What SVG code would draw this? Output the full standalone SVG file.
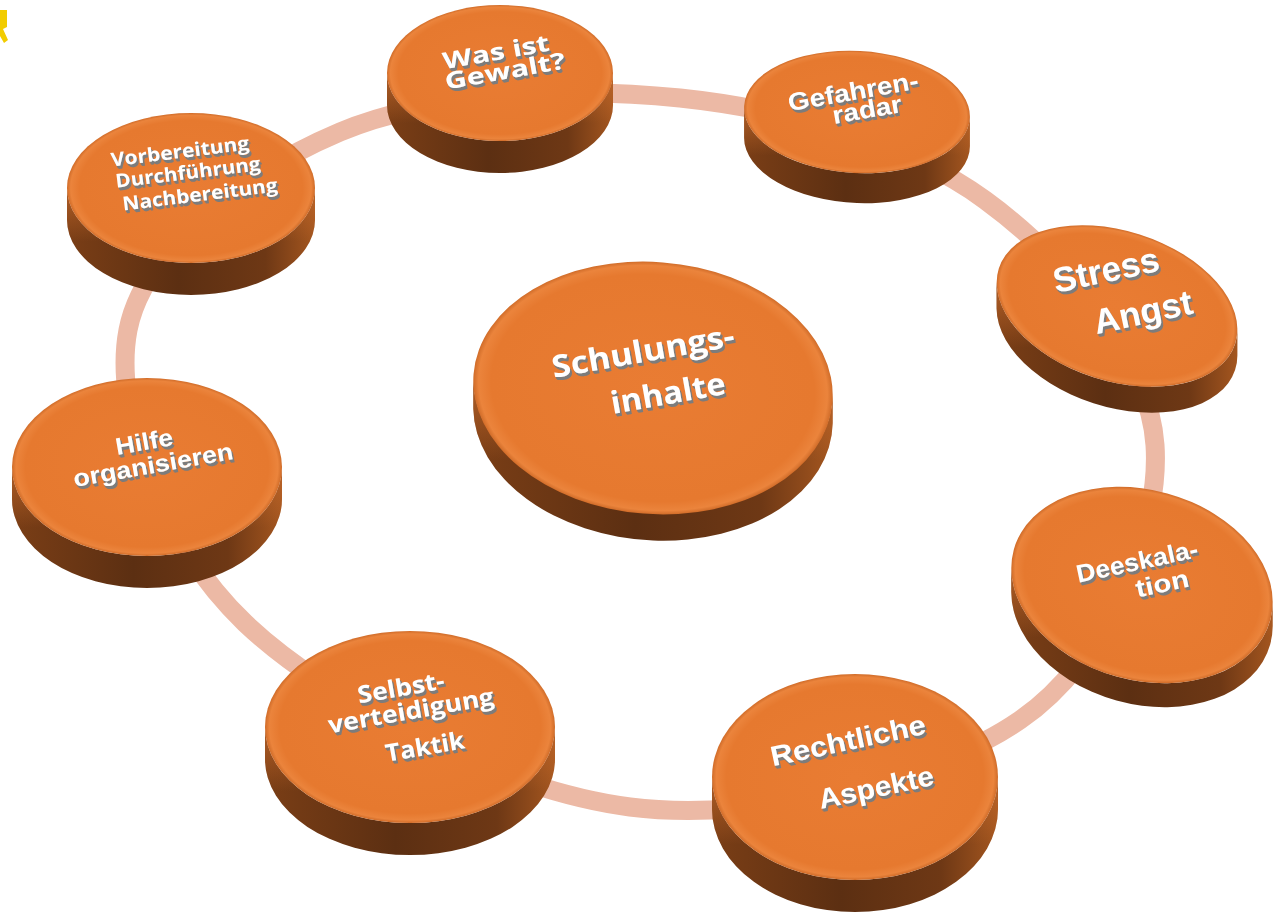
<svg xmlns="http://www.w3.org/2000/svg" width="1274" height="917" viewBox="0 0 1274 917">
<defs>
<linearGradient id="side" x1="0" y1="0" x2="1" y2="0">
<stop offset="0" stop-color="#7a3e16"/>
<stop offset="0.45" stop-color="#5c2f12"/>
<stop offset="0.8" stop-color="#6e3815"/>
<stop offset="1" stop-color="#a4561f"/>
</linearGradient>
<linearGradient id="sideHi" x1="0" y1="0" x2="0" y2="1">
<stop offset="0" stop-color="#c4692b" stop-opacity="0.75"/>
<stop offset="0.5" stop-color="#c4692b" stop-opacity="0"/>
</linearGradient>
<radialGradient id="top" cx="0.5" cy="0.5" r="0.5">
<stop offset="0" stop-color="#e97c33"/>
<stop offset="0.9" stop-color="#e6792f"/>
<stop offset="0.97" stop-color="#eb843c"/>
<stop offset="1" stop-color="#d06c29"/>
</radialGradient>
<filter id="ts" x="-10%" y="-30%" width="125%" height="170%">
<feOffset in="SourceAlpha" dx="1" dy="1.5" result="o1"/>
<feOffset in="SourceAlpha" dx="2" dy="2.8" result="o2"/>
<feMerge result="om"><feMergeNode in="o1"/><feMergeNode in="o2"/></feMerge>
<feFlood flood-color="#7b7b7b"/>
<feComposite in2="om" operator="in" result="s"/>
<feMerge><feMergeNode in="s"/><feMergeNode in="SourceGraphic"/></feMerge>
</filter>
</defs>
<style>
.ring{fill:none;stroke:#ecb9a5;stroke-width:19}
.side{fill:url(#side)}
.hi{fill:url(#sideHi)}
.top{fill:url(#top)}
.t{fill:#ffffff;font-weight:bold;filter:url(#ts)}
.os{font-family:"Open Sans","Liberation Sans",sans-serif}
.ar{font-family:"Liberation Sans",Arial,sans-serif}
</style>
<rect width="1274" height="917" fill="#ffffff"/>
<polygon points="0,10 7,10 7,27 3,29 8,40 4,43 0,36" fill="#f2cc00"/>
<g id="connectors">
<path class="ring" d="M680,98 C787.5,109.3 905.8,142.2 985,200 C1064.2,257.8 1149.2,358.3 1155,445 C1160.8,531.7 1107.5,659.7 1020,720 C932.5,780.3 759.2,823.2 630,807 C500.8,790.8 328.7,702.5 245,623 C161.3,543.5 112.2,411.8 128,330 C143.8,248.2 248,170.7 340,132 C432,93.3 572.5,86.7 680,98 Z"/>
</g>
<g id="node-was">
<path class="side" d="M387,73 L387,105 A113,68 0 0 0 613,105 L613,73 A113,68 0 0 1 387,73 Z"/>
<path class="hi" d="M387,73 L387,105 A113,68 0 0 0 613,105 L613,73 A113,68 0 0 1 387,73 Z"/>
<ellipse class="top" cx="500" cy="73" rx="113" ry="68"/>
<g class="t os" font-size="23" text-anchor="middle">
<text transform="translate(496,52) rotate(-10)" y="8" textLength="108" lengthAdjust="spacingAndGlyphs">Was ist</text>
<text transform="translate(505,71) rotate(-10)" y="8" textLength="122" lengthAdjust="spacingAndGlyphs">Gewalt?</text>
</g>
</g>
<g id="node-gefahren">
<path class="side" d="M744.1,107.8 L744.1,137.8 A113,61 3 0 0 969.9,146.2 L969.9,116.2 A113,61 3 0 1 744.1,107.8 Z"/>
<path class="hi" d="M744.1,107.8 L744.1,137.8 A113,61 3 0 0 969.9,146.2 L969.9,116.2 A113,61 3 0 1 744.1,107.8 Z"/>
<ellipse class="top" cx="857" cy="112" rx="113" ry="61" transform="rotate(3 857 112)"/>
<g class="t ar" font-size="25" text-anchor="middle">
<text transform="translate(853,91) rotate(-10)" y="9" textLength="132" lengthAdjust="spacingAndGlyphs">Gefahren-</text>
<text transform="translate(867,109) rotate(-10)" y="9" textLength="70" lengthAdjust="spacingAndGlyphs">radar</text>
</g>
</g>
<g id="node-stress">
<path class="side" d="M996.6,282.6 L996.6,308.6 A124,75 17.6 0 0 1237.4,355.4 L1237.4,329.4 A124,75 17.6 0 1 996.6,282.6 Z"/>
<path class="hi" d="M996.6,282.6 L996.6,308.6 A124,75 17.6 0 0 1237.4,355.4 L1237.4,329.4 A124,75 17.6 0 1 996.6,282.6 Z"/>
<ellipse class="top" cx="1117" cy="306" rx="124" ry="75" transform="rotate(17.6 1117 306)"/>
<g class="t ar" font-size="35" text-anchor="middle">
<text transform="translate(1106,270) rotate(-12)" y="12" textLength="108" lengthAdjust="spacingAndGlyphs">Stress</text>
<text transform="translate(1143,312) rotate(-12)" y="12" textLength="100" lengthAdjust="spacingAndGlyphs">Angst</text>
</g>
</g>
<g id="node-deeskalation">
<path class="side" d="M1011.3,568 L1011.3,592 A133,95 15.4 0 0 1272.7,626 L1272.7,602 A133,95 15.4 0 1 1011.3,568 Z"/>
<path class="hi" d="M1011.3,568 L1011.3,592 A133,95 15.4 0 0 1272.7,626 L1272.7,602 A133,95 15.4 0 1 1011.3,568 Z"/>
<ellipse class="top" cx="1142" cy="585" rx="133" ry="95" transform="rotate(15.4 1142 585)"/>
<g class="t ar" font-size="25" text-anchor="middle">
<text transform="translate(1137,561) rotate(-12)" y="9" textLength="124" lengthAdjust="spacingAndGlyphs">Deeskala-</text>
<text transform="translate(1162,583) rotate(-12)" y="9" textLength="54" lengthAdjust="spacingAndGlyphs">tion</text>
</g>
</g>
<g id="node-rechtliche">
<path class="side" d="M712,777 L712,809 A143,103 0 0 0 998,809 L998,777 A143,103 0 0 1 712,777 Z"/>
<path class="hi" d="M712,777 L712,809 A143,103 0 0 0 998,809 L998,777 A143,103 0 0 1 712,777 Z"/>
<ellipse class="top" cx="855" cy="777" rx="143" ry="103"/>
<g class="t ar" font-size="28" text-anchor="middle">
<text transform="translate(848,740) rotate(-12)" y="10" textLength="158" lengthAdjust="spacingAndGlyphs">Rechtliche</text>
<text transform="translate(876,787) rotate(-12)" y="10" textLength="117" lengthAdjust="spacingAndGlyphs">Aspekte</text>
</g>
</g>
<g id="node-selbst">
<path class="side" d="M265,727 L265,759 A145,96 0 0 0 555,759 L555,727 A145,96 0 0 1 265,727 Z"/>
<path class="hi" d="M265,727 L265,759 A145,96 0 0 0 555,759 L555,727 A145,96 0 0 1 265,727 Z"/>
<ellipse class="top" cx="410" cy="727" rx="145" ry="96"/>
<g class="t os" font-size="24" text-anchor="middle">
<text transform="translate(401,688) rotate(-10)" y="8" textLength="88" lengthAdjust="spacingAndGlyphs">Selbst-</text>
<text transform="translate(411,711) rotate(-10)" y="8" textLength="168" lengthAdjust="spacingAndGlyphs">verteidigung</text>
<text transform="translate(425,747) rotate(-10)" y="8" textLength="80" lengthAdjust="spacingAndGlyphs">Taktik</text>
</g>
</g>
<g id="node-hilfe">
<path class="side" d="M12,467 L12,499 A135,89 0 0 0 282,499 L282,467 A135,89 0 0 1 12,467 Z"/>
<path class="hi" d="M12,467 L12,499 A135,89 0 0 0 282,499 L282,467 A135,89 0 0 1 12,467 Z"/>
<ellipse class="top" cx="147" cy="467" rx="135" ry="89"/>
<g class="t ar" font-size="24" text-anchor="middle">
<text transform="translate(144,441) rotate(-10)" y="9" textLength="58" lengthAdjust="spacingAndGlyphs">Hilfe</text>
<text transform="translate(153,464) rotate(-10)" y="9" textLength="162" lengthAdjust="spacingAndGlyphs">organisieren</text>
</g>
</g>
<g id="node-vorbereitung">
<path class="side" d="M67,188 L67,220 A124,75 0 0 0 315,220 L315,188 A124,75 0 0 1 67,188 Z"/>
<path class="hi" d="M67,188 L67,220 A124,75 0 0 0 315,220 L315,188 A124,75 0 0 1 67,188 Z"/>
<ellipse class="top" cx="191" cy="188" rx="124" ry="75"/>
<g class="t os" font-size="19" text-anchor="middle">
<text transform="translate(180,152) rotate(-7)" y="6" textLength="139" lengthAdjust="spacingAndGlyphs">Vorbereitung</text>
<text transform="translate(188,173) rotate(-7)" y="6" textLength="146" lengthAdjust="spacingAndGlyphs">Durchführung</text>
<text transform="translate(200,195) rotate(-7)" y="6" textLength="156" lengthAdjust="spacingAndGlyphs">Nachbereitung</text>
</g>
</g>
<g id="node-center">
<path class="side" d="M473.3,380.8 L473.3,408.8 A180,126 4.5 0 0 832.7,423.2 L832.7,395.2 A180,126 4.5 0 1 473.3,380.8 Z"/>
<path class="hi" d="M473.3,380.8 L473.3,408.8 A180,126 4.5 0 0 832.7,423.2 L832.7,395.2 A180,126 4.5 0 1 473.3,380.8 Z"/>
<ellipse class="top" cx="653" cy="388" rx="180" ry="126" transform="rotate(4.5 653 388)"/>
<g class="t os" font-size="31" text-anchor="middle">
<text transform="translate(643,351) rotate(-10)" y="11" textLength="185" lengthAdjust="spacingAndGlyphs">Schulungs-</text>
<text transform="translate(668,393) rotate(-10)" y="11" textLength="116" lengthAdjust="spacingAndGlyphs">inhalte</text>
</g>
</g>
</svg>
